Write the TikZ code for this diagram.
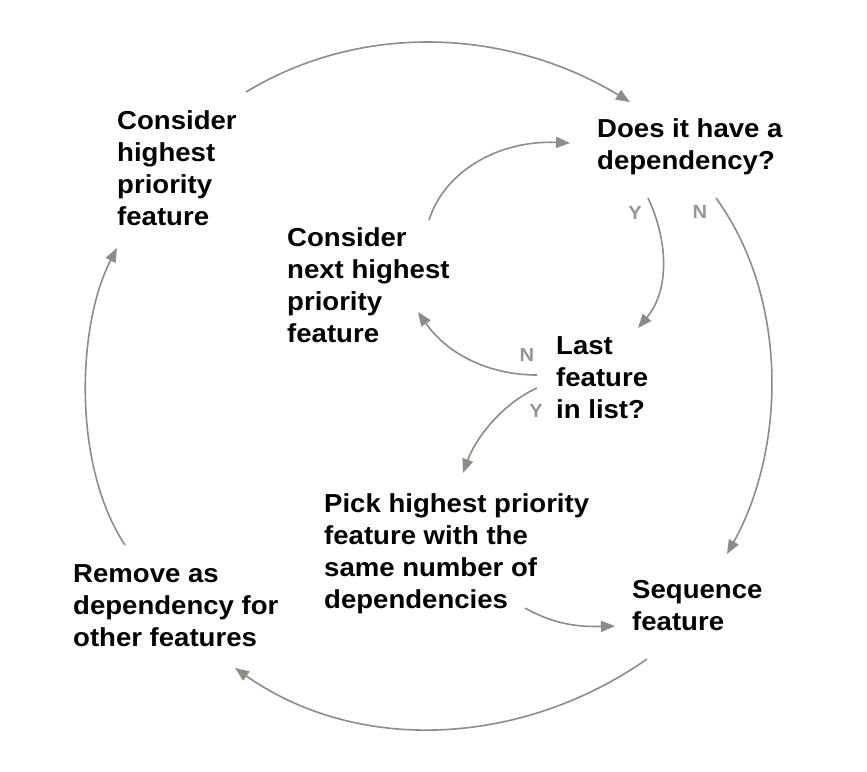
\documentclass[tikz,border=0pt]{standalone}
\usepackage{fontspec}
\setmainfont[FakeStretch=1.06]{Liberation Sans}
\usepackage{tikz}
\usetikzlibrary{calc, positioning, arrows.meta}
\definecolor{arrowgray}{RGB}{140,140,136}
\definecolor{labelgray}{RGB}{150,150,150}
\tikzset{
  txt/.style={anchor=north west, inner sep=0pt, align=left, font=\fontsize{26}{32}\selectfont\bfseries},
  yn/.style={inner sep=0pt, text=labelgray, font=\fontsize{19}{19}\selectfont\bfseries},
  flow/.style={draw=arrowgray, line width=1.6pt, -{Triangle[length=14pt,width=11pt]}}
}

\begin{document}
\begin{tikzpicture}[x=1pt, y=-1pt]
        \fill[white] (0,0) rectangle (867,771);

        % steps
        \node[txt] (high) at (117,110) {Consider\\highest\\priority\\feature};
        \node[txt] (dep) at (597,118) {Does it have a\\dependency?};
        \node[txt] (next) at (287,227) {Consider\\next highest\\priority\\feature};
        \node[txt] (last) at (556,336) {Last\\feature\\in list?};
        \node[txt] (pick) at (324,493) {Pick highest priority\\feature with the\\same number of\\dependencies};
        \node[txt] (seq) at (632,580) {Sequence\\feature};
        \node[txt] (remove) at (73,564) {Remove as\\dependency for\\other features};

        % answers
        \foreach \n / \x / \y / \t in {depY/635/213/Y, depN/700/212/N, lastN/527/355/N, lastY/536/411/Y}
        \node[yn] (\n) at (\x,\y) {\t};

        % arrow ends
        \coordinate (high-out) at (246,92);
        \coordinate (dep-in) at (630,102);
        \coordinate (next-out) at (429,220);
        \coordinate (dep-in2) at (570,143);
        \coordinate (dep-y) at (648,198);
        \coordinate (last-in) at (638,328);
        \coordinate (dep-n) at (716,198);
        \coordinate (seq-in) at (727,554);
        \coordinate (last-n) at (537,375);
        \coordinate (next-in) at (418,312);
        \coordinate (last-y) at (537,388);
        \coordinate (pick-in) at (463,473);
        \coordinate (pick-out) at (525,608);
        \coordinate (seq-in2) at (615,626);
        \coordinate (seq-out) at (647,659);
        \coordinate (remove-in) at (235,668);
        \coordinate (remove-out) at (125,545);
        \coordinate (high-in) at (117,248);

        \draw[flow] (high-out) .. controls (365,20) and (511,30) .. (dep-in);
        \draw[flow] (next-out) .. controls (445,170) and (500,140) .. (dep-in2);
        \draw[flow] (dep-y) .. controls (668,240) and (670,290) .. (last-in);
        \draw[flow] (dep-n) .. controls (790,300) and (785,450) .. (seq-in);
        \draw[flow] (last-n) .. controls (490,375) and (448,355) .. (next-in);
        \draw[flow] (last-y) .. controls (500,405) and (475,440) .. (pick-in);
        \draw[flow] (pick-out) .. controls (555,625) and (580,627) .. (seq-in2);
        \draw[flow] (seq-out) .. controls (523,746) and (359,755) .. (remove-in);
        \draw[flow] (remove-out) .. controls (72,465) and (77,325) .. (high-in);
\end{tikzpicture}
\end{document}
